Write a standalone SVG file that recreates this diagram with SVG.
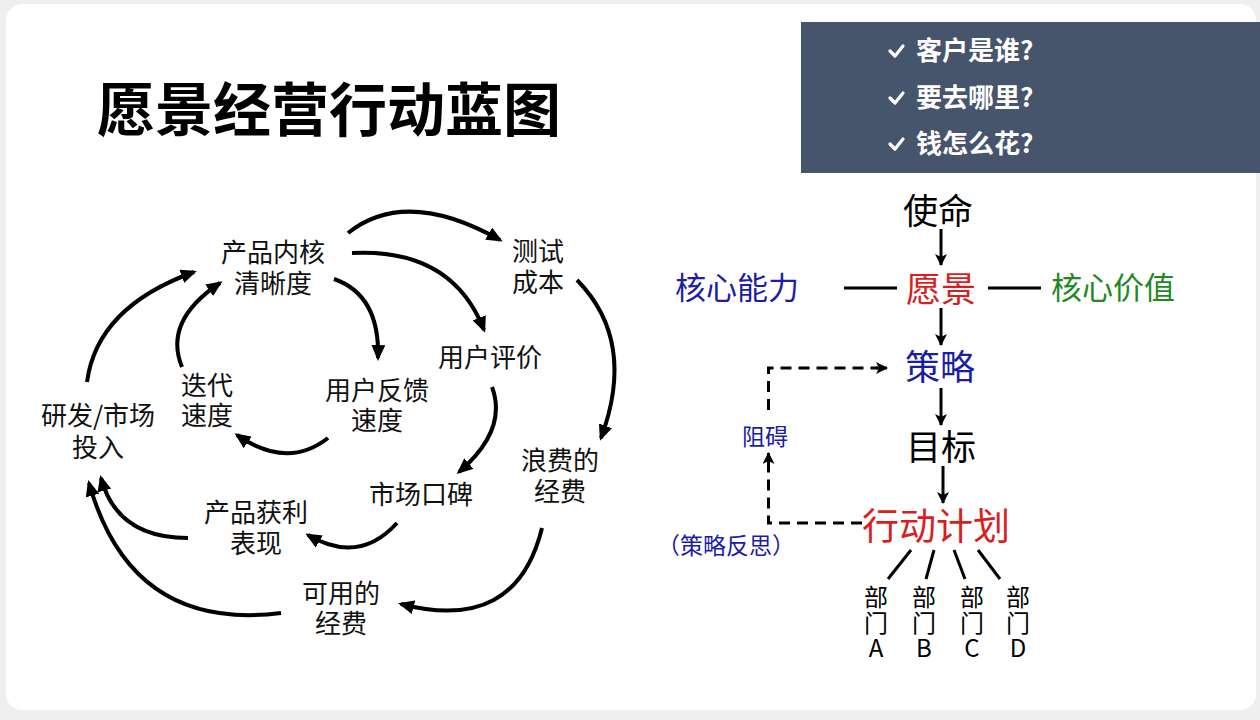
<svg xmlns="http://www.w3.org/2000/svg" width="1260" height="720" viewBox="0 0 1260 720">
<defs>
<style>
text{font-family:"Noto Sans CJK SC","Noto Sans",sans-serif;}
.cy{font-size:26px;fill:#111;text-anchor:middle;}
.big{font-size:35px;text-anchor:middle;}
.chk{font-size:26px;font-weight:bold;fill:#fff;}
.arc{fill:none;stroke:#000;stroke-width:4;marker-end:url(#ah);}
.ar{fill:none;stroke:#000;stroke-width:3;marker-end:url(#ah2);}
.dash{fill:none;stroke:#000;stroke-width:3;stroke-dasharray:11 7;}
.ln{fill:none;stroke:#000;stroke-width:3;}
.dept{font-size:24px;fill:#000;writing-mode:vertical-rl;text-orientation:upright;letter-spacing:1.5px;}
.tick{fill:none;stroke:#fff;stroke-width:3.2;stroke-linecap:round;stroke-linejoin:round;}
</style>
<marker id="ah" viewBox="0 0 16 14" refX="13" refY="7" markerWidth="16" markerHeight="14" orient="auto" markerUnits="userSpaceOnUse">
<path d="M0,0 L16,7 L0,14 z" fill="#000"/>
</marker>
<marker id="ah2" viewBox="0 0 12 12" refX="11" refY="6" markerWidth="12" markerHeight="12" orient="auto" markerUnits="userSpaceOnUse">
<path d="M0,0 L12,6 L0,12 L3,6 z" fill="#000"/>
</marker>
</defs>
<rect x="0" y="0" width="1260" height="720" fill="#efefef"/>
<rect x="6" y="4" width="1250" height="706" rx="16" fill="#ffffff"/>

<g id="title">
<text x="97" y="131" style="font-size:58px;font-weight:bold;fill:#000">愿景经营行动蓝图</text>
</g>

<g id="questions">
<rect x="801" y="22" width="459" height="151" fill="#46546c"/>
<path class="tick" d="M890,51 L895,56 L903,46"/>
<path class="tick" d="M890,98 L895,103 L903,93"/>
<path class="tick" d="M890,144 L895,149 L903,139"/>
<text class="chk" x="916" y="60">客户是谁?</text>
<text class="chk" x="916" y="107">要去哪里?</text>
<text class="chk" x="916" y="153">钱怎么花?</text>
</g>

<g id="cycle-connectors">
<path class="arc" d="M348,233 Q406,187 500,240"/>
<path class="arc" d="M352,253 Q452,248 484,330"/>
<path class="arc" d="M334,279 Q380,295 378,358"/>
<path class="arc" d="M328,438 Q287,470 237,435"/>
<path class="arc" d="M182,367 Q163,321 220,283"/>
<path class="arc" d="M87,382 Q97,307 194,272"/>
<path class="arc" d="M577,280 Q637,341 601,438"/>
<path class="arc" d="M492,387 Q508,430 459,472"/>
<path class="arc" d="M397,523 Q359,565 308,535"/>
<path class="arc" d="M188,538 Q117,538 101,478"/>
<path class="arc" d="M542,528 Q516,634 401,604"/>
<path class="arc" d="M281,613 Q131,632 89,483"/>
</g>

<g id="n-core"><text class="cy" x="273" y="262">产品内核</text><text class="cy" x="273" y="293">清晰度</text></g>
<g id="n-test"><text class="cy" x="538" y="261">测试</text><text class="cy" x="538" y="292">成本</text></g>
<g id="n-eval"><text class="cy" x="490" y="367">用户评价</text></g>
<g id="n-iter"><text class="cy" x="207" y="395">迭代</text><text class="cy" x="207" y="425">速度</text></g>
<g id="n-feedback"><text class="cy" x="377" y="400">用户反馈</text><text class="cy" x="377" y="430">速度</text></g>
<g id="n-invest"><text class="cy" x="98" y="425">研发/市场</text><text class="cy" x="98" y="457">投入</text></g>
<g id="n-waste"><text class="cy" x="560" y="470">浪费的</text><text class="cy" x="560" y="501">经费</text></g>
<g id="n-word"><text class="cy" x="421" y="504">市场口碑</text></g>
<g id="n-profit"><text class="cy" x="256" y="522">产品获利</text><text class="cy" x="256" y="553">表现</text></g>
<g id="n-avail"><text class="cy" x="341" y="603">可用的</text><text class="cy" x="341" y="633">经费</text></g>

<g id="tree-connectors">
<path class="ar" d="M941,229 L941,265"/>
<path class="ar" d="M941,308 L941,345"/>
<path class="ar" d="M941,388 L941,425"/>
<path class="ar" d="M943,466 L943,503"/>
<path class="ln" d="M844,288 L897,288"/>
<path class="ln" d="M988,288 L1041,288"/>
<path class="dash" d="M768.5,410 L768.5,368 L878,368"/>
<path class="ar" d="M876,368 L887,368"/>
<path class="dash" d="M862,523 L768.5,523 L768.5,462"/>
<path class="ar" d="M768.5,464 L768.5,453"/>
<path class="ln" d="M911,550 L888,579"/>
<path class="ln" d="M934,550 L926,579"/>
<path class="ln" d="M954,550 L965,579"/>
<path class="ln" d="M978,550 L1000,579"/>
</g>

<g id="t-mission"><text class="big" x="938" y="224" fill="#000">使命</text></g>
<g id="t-vision"><text class="big" x="941" y="302" fill="#d81e1e">愿景</text></g>
<g id="t-capability"><text x="737" y="299" style="font-size:31px;fill:#1c1ca8;text-anchor:middle">核心能力</text></g>
<g id="t-values"><text x="1113" y="299" style="font-size:31px;fill:#1f8a1f;text-anchor:middle">核心价值</text></g>
<g id="t-strategy"><text class="big" x="940" y="380" fill="#1c1ca8">策略</text></g>
<g id="t-obstacle"><text x="765" y="445" style="font-size:23px;fill:#1c1ca8;text-anchor:middle">阻碍</text></g>
<g id="t-goal"><text class="big" x="941" y="460" fill="#000">目标</text></g>
<g id="t-plan"><text x="936" y="540" style="font-size:37px;fill:#d81e1e;text-anchor:middle">行动计划</text></g>
<g id="t-reflect"><text x="726" y="554" style="font-size:23px;fill:#1c1ca8;text-anchor:middle">（策略反思）</text></g>
<g id="d-a"><text class="dept" x="876" y="585">部门A</text></g>
<g id="d-b"><text class="dept" x="924" y="585">部门B</text></g>
<g id="d-c"><text class="dept" x="972" y="585">部门C</text></g>
<g id="d-d"><text class="dept" x="1018" y="585">部门D</text></g>
</svg>
